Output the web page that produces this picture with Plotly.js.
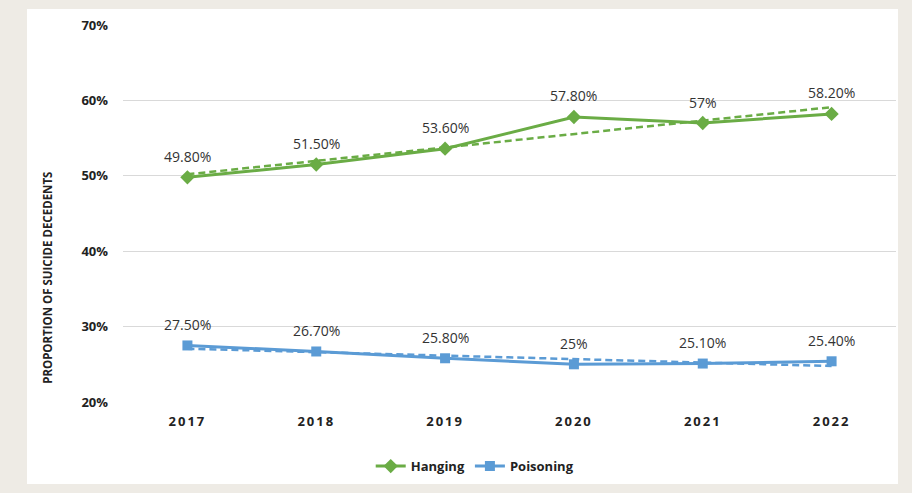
<!DOCTYPE html>
<html>
<head>
<meta charset="utf-8">
<script src="https://cdn.plot.ly/plotly-3.0.1.min.js"></script>
<style>
  html, body { margin: 0; padding: 0; background: #eeebe5; width: 912px; height: 493px; overflow: hidden; }
  #panel { position: absolute; left: 27px; top: 9px; width: 871px; height: 475px; background: #ffffff; }
  #chart { position: absolute; left: 0; top: 0; width: 912px; height: 493px; }
  .xtick text { letter-spacing: 2px; }
</style>
</head>
<body>
<div id="panel"></div>
<div id="chart"></div>
<script>
// Data
const years = ['2017', '2018', '2019', '2020', '2021', '2022'];
const hanging = [49.8, 51.5, 53.6, 57.8, 57.0, 58.2];
const poisoning = [27.5, 26.7, 25.8, 25.0, 25.1, 25.4];
const hangingLabels = ['49.80%', '51.50%', '53.60%', '57.80%', '57%', '58.20%'];
const poisoningLabels = ['27.50%', '26.70%', '25.80%', '25%', '25.10%', '25.40%'];
// Linear trendline endpoints
const trendYears = ['2017', '2022'];
const hangingTrend = [50.2, 59.1];
const poisoningTrend = [27.07, 24.77];
const yTicks = [20, 30, 40, 50, 60, 70];
const yTickText = ['20%', '30%', '40%', '50%', '60%', '70%'];

const green = '#6aac45';
const blue = '#5b9bd5';

const traces = [
  { x: years, y: hanging, name: 'Hanging', mode: 'lines+markers', line: { color: green, width: 3 }, marker: { symbol: 'diamond', size: 11, color: green } },
  { x: years, y: poisoning, name: 'Poisoning', mode: 'lines+markers', line: { color: blue, width: 3 }, marker: { symbol: 'square', size: 10, color: blue } },
  { x: trendYears, y: hangingTrend, mode: 'lines', line: { color: green, width: 2.5, dash: '7px,4px' }, showlegend: false, hoverinfo: 'skip' },
  { x: trendYears, y: poisoningTrend, mode: 'lines', line: { color: blue, width: 2.5, dash: '7px,4px' }, showlegend: false, hoverinfo: 'skip' }
];

function labelFont() { return { family: 'Open Sans, sans-serif', size: 14, color: '#333333' }; }
const annotations = [];
years.forEach((yr, i) => {
  annotations.push({ xref: 'x', yref: 'y', x: i, y: hanging[i], text: hangingLabels[i], showarrow: false, yshift: 21, font: labelFont(), xanchor: 'center', yanchor: 'middle' });
  annotations.push({ xref: 'x', yref: 'y', x: i, y: poisoning[i], text: poisoningLabels[i], showarrow: false, yshift: 21, font: labelFont(), xanchor: 'center', yanchor: 'middle' });
});
annotations.push({
  xref: 'paper', yref: 'paper', x: -0.098, y: 0.33, text: 'PROPORTION OF SUICIDE DECEDENTS',
  textangle: -90, showarrow: false, xanchor: 'center', yanchor: 'middle',
  font: { family: 'Open Sans, sans-serif', size: 11.5, color: '#222222', weight: 'bold' }
});

const layout = {
  width: 912, height: 493,
  margin: { l: 123, r: 16, t: 25, b: 91 },
  paper_bgcolor: 'rgba(0,0,0,0)',
  plot_bgcolor: '#ffffff',
  showlegend: true,
  legend: {
    orientation: 'h', x: 0.455, xanchor: 'center', y: -0.17, yanchor: 'middle',
    font: { family: 'Open Sans, sans-serif', size: 13, color: '#222222', weight: 'bold' }
  },
  xaxis: {
    type: 'category', categoryorder: 'array', categoryarray: years, range: [-0.5, 5.5],
    showgrid: false, zeroline: false, showline: false,
    ticks: '', ticklabelstandoff: 10,
    tickfont: { family: 'Open Sans, sans-serif', size: 13, color: '#222222', weight: 'bold' }
  },
  yaxis: {
    range: [20, 70], tickvals: yTicks, ticktext: yTickText,
    showgrid: true, gridcolor: '#d9d9d9', gridwidth: 1, zeroline: false, showline: false,
    ticks: '', ticklabelstandoff: 14,
    tickfont: { family: 'Open Sans, sans-serif', size: 13, color: '#222222', weight: 'bold' }
  },
  annotations: annotations
};

Plotly.newPlot('chart', traces, layout, { displayModeBar: false, staticPlot: true });
</script>
</body>
</html>
